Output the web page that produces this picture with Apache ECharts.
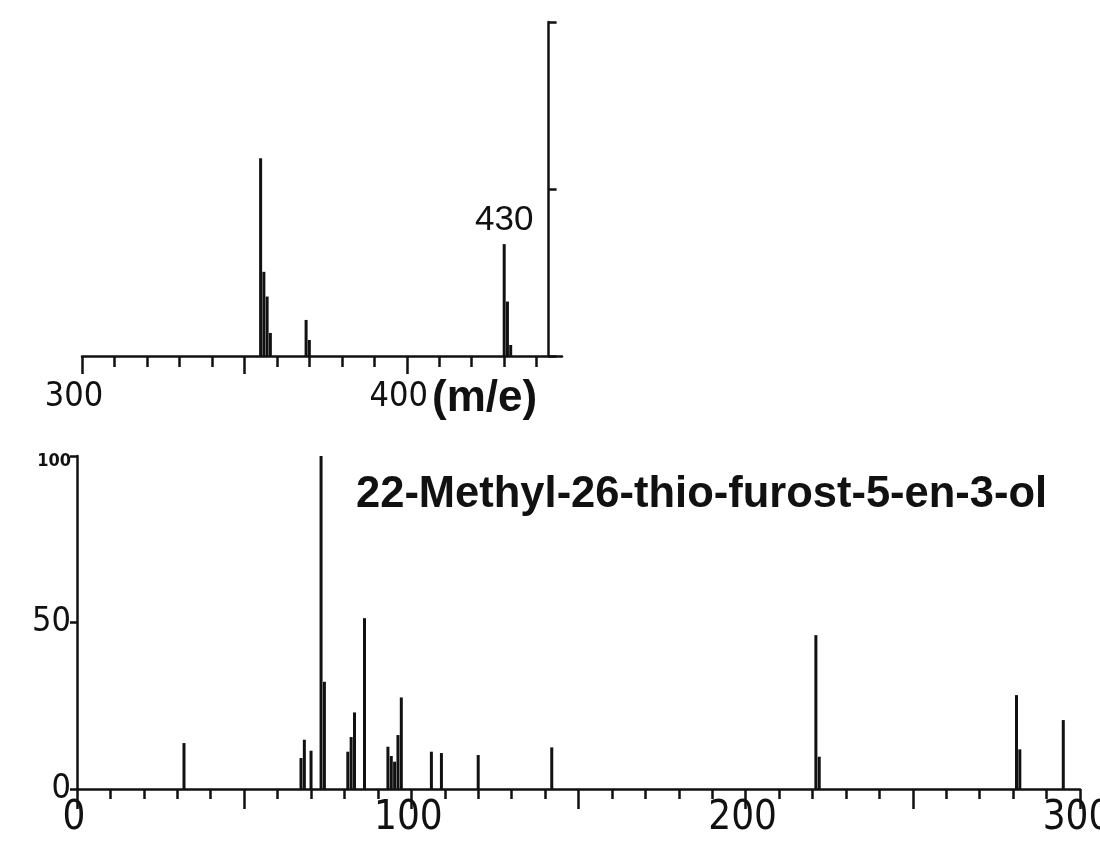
<!DOCTYPE html>
<html><head><meta charset="utf-8">
<script src="https://cdn.jsdelivr.net/npm/echarts@6/dist/echarts.min.js"></script>
<style>html,body{margin:0;padding:0;background:#fff}#c{width:1100px;height:852px}</style>
</head><body><div id="c"></div>
<script>
// ---- data (m/e, relative intensity) ----
const mainMz        = [32, 67, 68, 70, 73, 74, 81, 82, 83, 86, 93, 94, 95, 96, 97, 106, 109, 120, 142, 221, 222, 281, 282, 295];
const mainIntensity = [13.8, 9.3, 14.8, 11.5, 100, 32.2, 11.2, 15.6, 23, 51.3, 12.7, 9.9, 8.2, 16.2, 27.5, 11.2, 10.8, 10.2, 12.5, 46.2, 9.7, 28.2, 11.9, 20.7];
const insetMz        = [355, 356, 357, 358, 369, 370, 430, 431, 432];
const insetIntensity = [59.2, 25.2, 17.8, 6.9, 10.8, 4.8, 33.5, 16.3, 3.3];
const mainXLabels  = [0, 100, 200, 300];
const mainYLabels  = [0, 50, 100];
const insetXLabels = [300, 400];
const insetMajorTicks = [300, 350, 400];
const insetMinorTicks = [310, 320, 330, 340, 360, 370, 380, 390, 410, 420, 430, 440];
const insetPeakLabel = 430;
const titleText = '22-Methyl-26-thio-furost-5-en-3-ol';
const unitText = '(m/e)';

const NARROW = '"Liberation Sans Narrow", "DejaVu Sans Condensed", "Liberation Sans", sans-serif';
const SANS = '"Liberation Sans", Arial, sans-serif';
const INK = '#111';
const lineStyle = {color: INK, width: 2.5};

const chart = echarts.init(document.getElementById('c'), null, {renderer: 'canvas'});

const insetData = insetMz.map((m, i) => m === insetPeakLabel
  ? {value: [m, insetIntensity[i]], label: {show: true, position: 'top', distance: 6, formatter: String(insetPeakLabel),
      color: INK, fontSize: 35, fontFamily: SANS}}
  : [m, insetIntensity[i]]);
const mainData = mainMz.map((m, i) => [m, mainIntensity[i]]);

chart.setOption({
  animation: false,
  backgroundColor: '#fff',
  title: {text: titleText, left: 351, top: 468,
    textStyle: {fontFamily: SANS, fontSize: 43.5, fontWeight: 'bold', color: INK}},
  graphic: [{type: 'text', left: 432, top: 377,
    style: {text: unitText, font: 'bold 44px ' + SANS, fill: INK}}],
  grid: [
    {left: 82, right: 538, top: 22, bottom: 496, outerBoundsMode: 'none', containLabel: false},
    {left: 77, right: 20, top: 456, bottom: 63, outerBoundsMode: 'none', containLabel: false}
  ],
  xAxis: [
    {gridIndex: 0, type: 'value', min: 300, max: 447.8, position: 'bottom',
      axisLine: {show: true, lineStyle}, splitLine: {show: false},
      axisTick: {show: true, length: 18, lineStyle, customValues: insetMajorTicks},
      axisLabel: {show: true, customValues: insetXLabels, margin: 24, padding: [0, 16, 0, 0],
        color: INK, fontSize: 34, fontFamily: NARROW}},
    {gridIndex: 0, type: 'value', min: 300, max: 447.8, position: 'bottom',
      axisLine: {show: false}, splitLine: {show: false},
      axisTick: {show: true, length: 11, lineStyle, customValues: insetMinorTicks},
      axisLabel: {show: false}},
    {gridIndex: 1, type: 'value', min: 0, max: 300, interval: 50, position: 'bottom',
      axisLine: {show: true, lineStyle}, splitLine: {show: false},
      axisTick: {show: true, length: 20, lineStyle},
      minorTick: {show: true, splitNumber: 5, length: 10, lineStyle},
      axisLabel: {margin: 10, padding: [0, 6, 0, 0], color: INK, fontSize: 40, fontFamily: NARROW,
        formatter: v => mainXLabels.includes(v) ? String(v) : ''}}
  ],
  yAxis: [
    {gridIndex: 0, type: 'value', min: 0, max: 100, interval: 50, position: 'right', offset: -13.4,
      axisLine: {show: true, lineStyle}, splitLine: {show: false},
      axisTick: {show: true, length: 8, lineStyle}, axisLabel: {show: false}},
    {gridIndex: 1, type: 'value', min: 0, max: 100, interval: 50, position: 'left',
      axisLine: {show: true, lineStyle}, splitLine: {show: false},
      axisTick: {show: true, length: 7, lineStyle},
      axisLabel: {margin: 6, color: INK, fontSize: 34, fontFamily: NARROW,
        formatter: v => mainYLabels.includes(v) ? (v === 100 ? '{s|' + v + '}' : String(v)) : '',
        rich: {s: {fontSize: 18, fontFamily: NARROW, fontWeight: 'bold', color: INK, padding: [10, 0, 0, 0]}}}}
  ],
  series: [
    {type: 'bar', xAxisIndex: 0, yAxisIndex: 0, data: insetData, barWidth: 3,
      itemStyle: {color: INK}, silent: true},
    {type: 'bar', xAxisIndex: 2, yAxisIndex: 1, data: mainData, barWidth: 3,
      itemStyle: {color: INK}, silent: true}
  ]
});
</script></body></html>
